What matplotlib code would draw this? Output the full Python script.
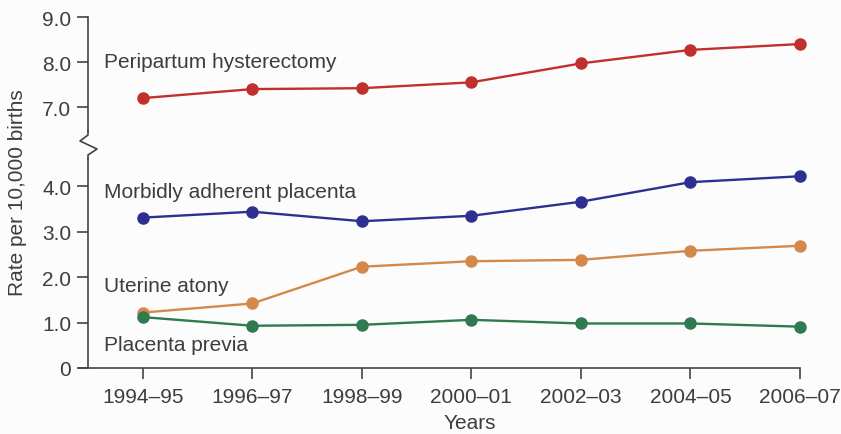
import matplotlib.pyplot as plt
from matplotlib.lines import Line2D

plt.rcParams['font.family'] = ['Liberation Sans', 'DejaVu Sans']

years = ['1994–95', '1996–97', '1998–99', '2000–01', '2002–03', '2004–05', '2006–07']
hysterectomy = [7.2, 7.4, 7.42, 7.55, 7.97, 8.27, 8.4]
adherent = [3.31, 3.44, 3.23, 3.35, 3.66, 4.09, 4.22]
atony = [1.22, 1.42, 2.23, 2.35, 2.38, 2.58, 2.69]
previa = [1.12, 0.93, 0.95, 1.06, 0.98, 0.98, 0.91]

text_col = '#3d3d3d'
W, H = 841, 435
fig = plt.figure(figsize=(W / 100, H / 100), dpi=100, facecolor='#fcfcfc')

left, right = 88 / W, 800 / W
ax_top = fig.add_axes([left, 1 - 132 / H, right - left, (132 - 18) / H])
ax_bot = fig.add_axes([left, 1 - 369 / H, right - left, (369 - 160) / H])

x = list(range(len(years)))

style = dict(lw=1.7, marker='o', ms=8, clip_on=False)
ax_top.plot(x, hysterectomy, color='#c0302c', **style)
ax_bot.plot(x, adherent, color='#2d3090', **style)
ax_bot.plot(x, atony, color='#d4894a', **style)
ax_bot.plot(x, previa, color='#2f7a4f', **style)

for ax in (ax_top, ax_bot):
    ax.set_facecolor('none')
    ax.set_xlim(-0.5, 6)
    ax.spines['top'].set_visible(False)
    ax.spines['right'].set_visible(False)
    for s in ax.spines.values():
        s.set_color('#444444')
        s.set_linewidth(1.2)
    ax.tick_params(axis='y', direction='out', length=8, width=1.2, colors='#444444',
                   labelsize=15, labelcolor=text_col, pad=4)

ax_top.set_ylim(6.47, 9.0)
ax_top.set_yticks([7.0, 8.0, 9.0])
ax_top.set_yticklabels(['7.0', '8.0', '9.0'])
ax_top.spines['bottom'].set_visible(False)
ax_top.set_xticks([])

ax_bot.set_ylim(0, 4.6)
ax_bot.set_yticks([0, 1.0, 2.0, 3.0, 4.0])
ax_bot.set_yticklabels(['0', '1.0', '2.0', '3.0', '4.0'])
ax_bot.set_xticks(x)
ax_bot.set_xticklabels(years)
ax_bot.tick_params(axis='x', direction='out', length=8, width=1.2, colors='#444444',
                   labelsize=15, labelcolor=text_col, pad=6)
ax_bot.spines['bottom'].set_bounds(-0.58, 6)

ax_top.text(-0.35, 8.02, 'Peripartum hysterectomy', fontsize=15, color=text_col, va='center')
ax_bot.text(-0.35, 3.89, 'Morbidly adherent placenta', fontsize=15, color=text_col, va='center')
ax_bot.text(-0.35, 1.82, 'Uterine atony', fontsize=15, color=text_col, va='center')
ax_bot.text(-0.35, 0.52, 'Placenta previa', fontsize=15, color=text_col, va='center')

# axis break zigzag
bx = [88, 88, 80, 97, 88, 88]
by = [132, 136, 142, 150, 156, 160]
fig.add_artist(Line2D([v / W for v in bx], [1 - v / H for v in by],
                      transform=fig.transFigure, color='#444444', lw=1.2))

fig.text(18 / W, 1 - 193 / H, 'Rate per 10,000 births', rotation=90, fontsize=15,
         color=text_col, ha='center', va='center')
fig.text(470 / W, 1 - 424 / H, 'Years', fontsize=15, color=text_col, ha='center', va='center')

fig.savefig('out.png', dpi=100, facecolor=fig.get_facecolor())
